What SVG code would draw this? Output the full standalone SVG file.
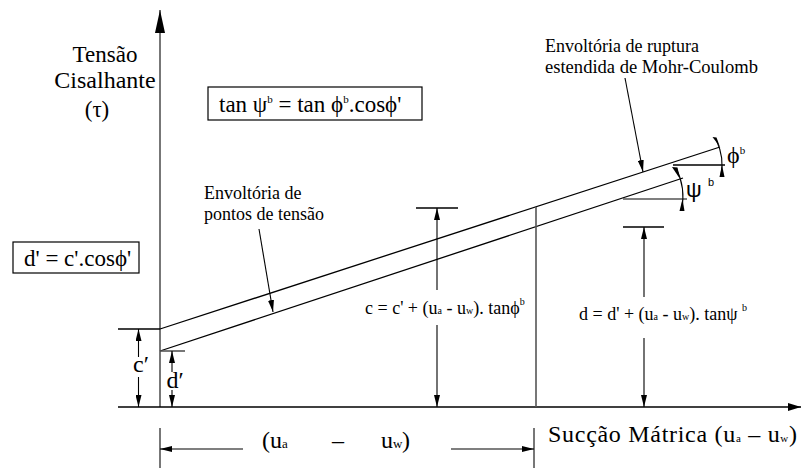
<svg xmlns="http://www.w3.org/2000/svg" width="802" height="468" viewBox="0 0 802 468">
<style>
.ln{stroke:#000;stroke-width:1.3;fill:none}
.gr{stroke:#555;stroke-width:1.6;fill:none}
.dim{stroke:#000;stroke-width:1.1;fill:none}
.box{stroke:#000;stroke-width:1.2;fill:#fff}
</style>
<defs>
<marker id="ar" viewBox="0 0 12 6" refX="12" refY="3" markerWidth="12" markerHeight="6" markerUnits="userSpaceOnUse" orient="auto-start-reverse">
<path d="M0,0 L12,3 L0,6 Z" fill="#000"/>
</marker>
<marker id="ax" viewBox="0 0 13 8" refX="13" refY="4" markerWidth="13" markerHeight="8" markerUnits="userSpaceOnUse" orient="auto">
<path d="M0,0 L13,4 L0,8 Z" fill="#000"/>
</marker>
<marker id="ay" viewBox="0 0 23 10" refX="23" refY="5" markerWidth="23" markerHeight="10" markerUnits="userSpaceOnUse" orient="auto">
<path d="M0,0 L23,5 L0,10 Z" fill="#000"/>
</marker>
</defs>

<g id="axes">
<line class="gr" x1="160" y1="407" x2="160" y2="10" marker-end="url(#ay)"/>
<line class="ln" x1="118" y1="407" x2="801" y2="407" marker-end="url(#ax)"/>
</g>

<g id="y-label">
<text font-family="Liberation Serif" font-size="23" x="105" y="62" text-anchor="middle">Tensão</text>
<text font-family="Liberation Serif" font-size="24" x="105" y="88" text-anchor="middle">Cisalhante</text>
<text font-family="Liberation Serif" font-size="23" x="97" y="117" text-anchor="middle">(τ)</text>
</g>

<g id="x-label">
<text font-family="Liberation Serif" font-size="24" x="548" y="442" textLength="249" lengthAdjust="spacing">Sucção Mátrica  (u<tspan font-size="11">a</tspan> – u<tspan font-size="11">w</tspan>)</text>
</g>

<g id="eq-tan">
<rect class="box" x="208" y="87" width="214" height="33"/>
<text font-family="Liberation Serif" font-size="23" x="219" y="112">tan ψ<tspan font-size="11" dy="-9">b</tspan><tspan dy="9"> = tan ϕ</tspan><tspan font-size="11" dy="-9">b</tspan><tspan dy="9">.cosϕ'</tspan></text>
</g>

<g id="eq-d">
<rect class="box" x="13" y="242" width="126" height="31"/>
<text font-family="Liberation Serif" font-size="23" x="24" y="266">d' = c'.cosϕ'</text>
</g>

<g id="envelopes">
<line class="ln" x1="160" y1="329" x2="720" y2="147"/>
<line class="ln" x1="160" y1="351" x2="683" y2="178"/>
<line class="ln" x1="118" y1="329" x2="160" y2="329"/>
<line class="gr" x1="160" y1="351" x2="185" y2="351" stroke-width="1.2"/>
<line class="gr" x1="536" y1="207" x2="536" y2="407" stroke-width="1.3"/>
</g>

<g id="label-mohr">
<text font-family="Liberation Serif" font-size="18" x="545" y="52">Envoltória de ruptura</text>
<text font-family="Liberation Serif" font-size="18" x="545" y="73" textLength="213" lengthAdjust="spacingAndGlyphs">estendida de Mohr-Coulomb</text>
</g>

<g id="label-pontos">
<text font-family="Liberation Serif" font-size="18" x="204" y="199">Envoltória de</text>
<text font-family="Liberation Serif" font-size="18" x="204" y="220">pontos de tensão</text>
</g>

<g id="angle-phi">
<line class="ln" x1="673" y1="165" x2="725" y2="165"/>
<path class="dim" d="M716.7,140.9 A57,57 0 0 1 721.1,174.9"/>
<path d="M712.5,137 L720,147 L716.5,137.5 Z" fill="#000"/>
<path d="M719.5,177 L722,165 L724.5,177 Z" fill="#000"/>
<text font-family="Liberation Serif" font-size="24" x="727" y="163">ϕ<tspan font-size="11" dy="-9">b</tspan></text>
</g>

<g id="angle-psi">
<line class="gr" x1="623" y1="199" x2="687" y2="199" stroke-width="1.3"/>
<path class="dim" d="M676,168 A64,64 0 0 1 681.5,210"/>
<path d="M672,167 L680,179 L677.5,167.5 Z" fill="#000"/>
<path d="M679.5,211 L682.5,199 L684.5,211 Z" fill="#000"/>
<text font-family="Liberation Sans" font-size="22" x="686" y="197">ψ</text>
<text font-family="Liberation Sans" font-size="11" x="708" y="186">b</text>
</g>

<g id="dim-c-prime">
<line class="dim" x1="138.5" y1="357" x2="138.5" y2="329" marker-end="url(#ar)"/>
<line class="dim" x1="138.5" y1="377" x2="138.5" y2="407" marker-end="url(#ar)"/>
<text font-family="Liberation Serif" font-size="24" x="141" y="372" text-anchor="middle">c′</text>
</g>

<g id="dim-d-prime">
<line class="dim" x1="172" y1="372" x2="172" y2="351" marker-end="url(#ar)"/>
<line class="dim" x1="172" y1="390" x2="172" y2="407" marker-end="url(#ar)"/>
<text font-family="Liberation Serif" font-size="24" x="175" y="388" text-anchor="middle">d′</text>
</g>

<g id="dim-c">
<line class="ln" x1="416" y1="208" x2="458" y2="208"/>
<line class="dim" x1="437" y1="290" x2="437" y2="208" marker-end="url(#ar)"/>
<line class="dim" x1="437" y1="325" x2="437" y2="407" marker-end="url(#ar)"/>
<text font-family="Liberation Serif" font-size="18" x="365" y="314">c = c' + (u<tspan font-size="10">a</tspan> - u<tspan font-size="10">w</tspan>). tanϕ<tspan font-size="10" dy="-9">b</tspan></text>
</g>

<g id="dim-d">
<line class="ln" x1="623" y1="227" x2="664" y2="227"/>
<line class="dim" x1="644" y1="297" x2="644" y2="227" marker-end="url(#ar)"/>
<line class="dim" x1="644" y1="338" x2="644" y2="407" marker-end="url(#ar)"/>
<text font-family="Liberation Serif" font-size="18" x="579" y="320">d = d' + (u<tspan font-size="10">a</tspan> - u<tspan font-size="10">w</tspan>). tanψ <tspan font-size="10" dy="-9">b</tspan></text>
</g>

<g id="dim-bottom">
<line class="gr" x1="160" y1="428" x2="160" y2="468" stroke-width="1.3"/>
<line class="gr" x1="534" y1="428" x2="534" y2="468" stroke-width="1.3"/>
<line class="dim" x1="243" y1="449" x2="160" y2="449" marker-end="url(#ar)"/>
<line class="dim" x1="451" y1="449" x2="534" y2="449" marker-end="url(#ar)"/>
<text font-family="Liberation Serif" font-size="24" y="448"><tspan x="262">(u</tspan><tspan x="282" font-size="13">a</tspan><tspan x="332">–</tspan><tspan x="381">u</tspan><tspan x="393" font-size="13">w</tspan><tspan x="402">)</tspan></text>
</g>

<g id="connectors">
<line class="dim" x1="625" y1="78" x2="643" y2="172" marker-end="url(#ar)"/>
<line class="dim" x1="259" y1="229" x2="273" y2="312" marker-end="url(#ar)"/>
</g>
</svg>
